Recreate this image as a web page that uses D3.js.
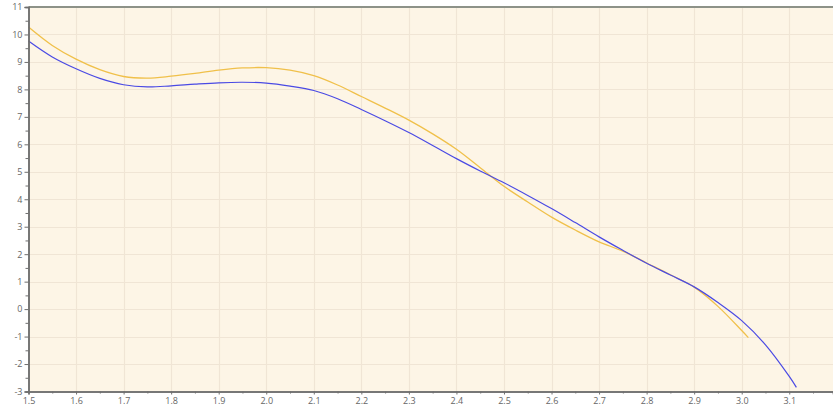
<!DOCTYPE html>
<html>
<head>
<meta charset="utf-8">
<script src="https://cdn.jsdelivr.net/npm/d3@7/dist/d3.min.js"></script>
<style>
    html, body { margin: 0; padding: 0; background: #ffffff; }
    svg { display: block; }
    .tick-label { font-family: "Open Sans", "DejaVu Sans", sans-serif; font-size: 9px; fill: #666; }
</style>
</head>
<body>
<svg id="chart" width="833" height="411"></svg>
<script>
// 曲線資料 (x 值共用)
var blueX = [1.50, 1.55, 1.60, 1.65, 1.70, 1.75, 1.80, 1.85, 1.90, 1.95, 2.00, 2.05, 2.10, 2.15, 2.20, 2.25, 2.30, 2.35, 2.40, 2.45, 2.50, 2.55, 2.60, 2.65, 2.70, 2.75, 2.80, 2.85, 2.90, 2.95, 3.00, 3.05, 3.10, 3.115];
var blueY = [9.76, 9.18, 8.75, 8.40, 8.17, 8.09, 8.13, 8.19, 8.24, 8.26, 8.23, 8.12, 7.96, 7.66, 7.27, 6.86, 6.43, 5.96, 5.48, 5.03, 4.60, 4.14, 3.66, 3.15, 2.63, 2.14, 1.67, 1.24, 0.81, 0.24, -0.42, -1.30, -2.45, -2.85];

var orangeX = [1.50, 1.55, 1.60, 1.65, 1.70, 1.75, 1.80, 1.85, 1.90, 1.95, 2.00, 2.05, 2.10, 2.15, 2.20, 2.25, 2.30, 2.35, 2.40, 2.45, 2.50, 2.55, 2.60, 2.65, 2.70, 2.75, 2.80, 2.85, 2.90, 2.95, 3.00, 3.014];
var orangeY = [10.27, 9.60, 9.10, 8.72, 8.47, 8.41, 8.48, 8.58, 8.70, 8.78, 8.79, 8.70, 8.50, 8.16, 7.74, 7.32, 6.88, 6.38, 5.82, 5.15, 4.47, 3.90, 3.35, 2.88, 2.45, 2.11, 1.68, 1.25, 0.80, 0.10, -0.78, -1.04];

// 軸刻度
var xTicks = [1.5, 1.6, 1.7, 1.8, 1.9, 2.0, 2.1, 2.2, 2.3, 2.4, 2.5, 2.6, 2.7, 2.8, 2.9, 3.0, 3.1];
var yTicks = [-3, -2, -1, 0, 1, 2, 3, 4, 5, 6, 7, 8, 9, 10, 11];
var xMin = 1.5, xMax = 3.192, yMin = -3, yMax = 11;

var svg = d3.select("#chart");
var plotLeft = 28.5, plotRight = 833, plotTop = 7, plotBottom = 391.5;

var x = d3.scaleLinear().domain([xMin, xMax]).range([plotLeft, plotRight]);
var y = d3.scaleLinear().domain([yMin, yMax]).range([plotBottom, plotTop]);

// 背景
svg.append("rect")
    .attr("x", plotLeft).attr("y", plotTop)
    .attr("width", plotRight - plotLeft).attr("height", plotBottom - plotTop)
    .attr("fill", "#fdf5e6");

// 格線
var grid = svg.append("g");
grid.selectAll(".vg").data(xTicks.slice(1)).enter().append("line")
    .attr("x1", function(d) { return Math.round(x(d)) + 0.5; })
    .attr("x2", function(d) { return Math.round(x(d)) + 0.5; })
    .attr("y1", plotTop).attr("y2", plotBottom)
    .attr("stroke", "#f0e5d5").attr("stroke-width", 1.2);
grid.selectAll(".hg").data(yTicks.slice(1, -1)).enter().append("line")
    .attr("x1", plotLeft).attr("x2", plotRight)
    .attr("y1", function(d) { return Math.round(y(d)) + 0.5; })
    .attr("y2", function(d) { return Math.round(y(d)) + 0.5; })
    .attr("stroke", "#f0e5d5").attr("stroke-width", 1.2);

// 上框線
svg.append("line")
    .attr("x1", plotLeft).attr("x2", plotRight).attr("y1", plotTop).attr("y2", plotTop)
    .attr("stroke", "#8d9288").attr("stroke-width", 2);

// 曲線
var line = d3.line()
    .x(function(d) { return x(d[0]); })
    .y(function(d) { return y(d[1]); })
    .curve(d3.curveCatmullRom);

svg.append("path")
    .datum(d3.zip(orangeX, orangeY))
    .attr("d", line)
    .attr("fill", "none")
    .attr("stroke", "#f0c04a")
    .attr("stroke-width", 1.3);

svg.append("path")
    .datum(d3.zip(blueX, blueY))
    .attr("d", line)
    .attr("fill", "none")
    .attr("stroke", "#4a4ae4")
    .attr("stroke-width", 1.2);

// Y 軸 (負號用一般連字號)
var yAxis = d3.axisLeft(y).tickValues(yTicks).tickSize(4).tickPadding(2)
    .tickFormat(function(d) { return String(d); });
var yMinor = d3.axisLeft(y).tickValues(d3.range(yMin + 0.5, yMax, 1)).tickSize(3).tickFormat("");
svg.append("g").attr("transform", "translate(" + plotLeft + ",0)").call(yAxis);
svg.append("g").attr("transform", "translate(" + plotLeft + ",0)").call(yMinor);

// X 軸
var xAxis = d3.axisBottom(x).tickValues(xTicks).tickSize(3).tickPadding(3)
    .tickFormat(function(d) { return d.toFixed(1); });
var xMinor = d3.axisBottom(x).tickValues(d3.range(1.55, xMax, 0.1)).tickSize(2).tickFormat("");
svg.append("g").attr("transform", "translate(0," + plotBottom + ")").call(xAxis);
svg.append("g").attr("transform", "translate(0," + plotBottom + ")").call(xMinor);

svg.selectAll(".domain").attr("stroke", "#6f6f6f").attr("stroke-width", 1.5);
svg.selectAll(".tick line").attr("stroke", "#6f6f6f");
svg.selectAll(".tick text").attr("class", "tick-label");
</script>
</body>
</html>
